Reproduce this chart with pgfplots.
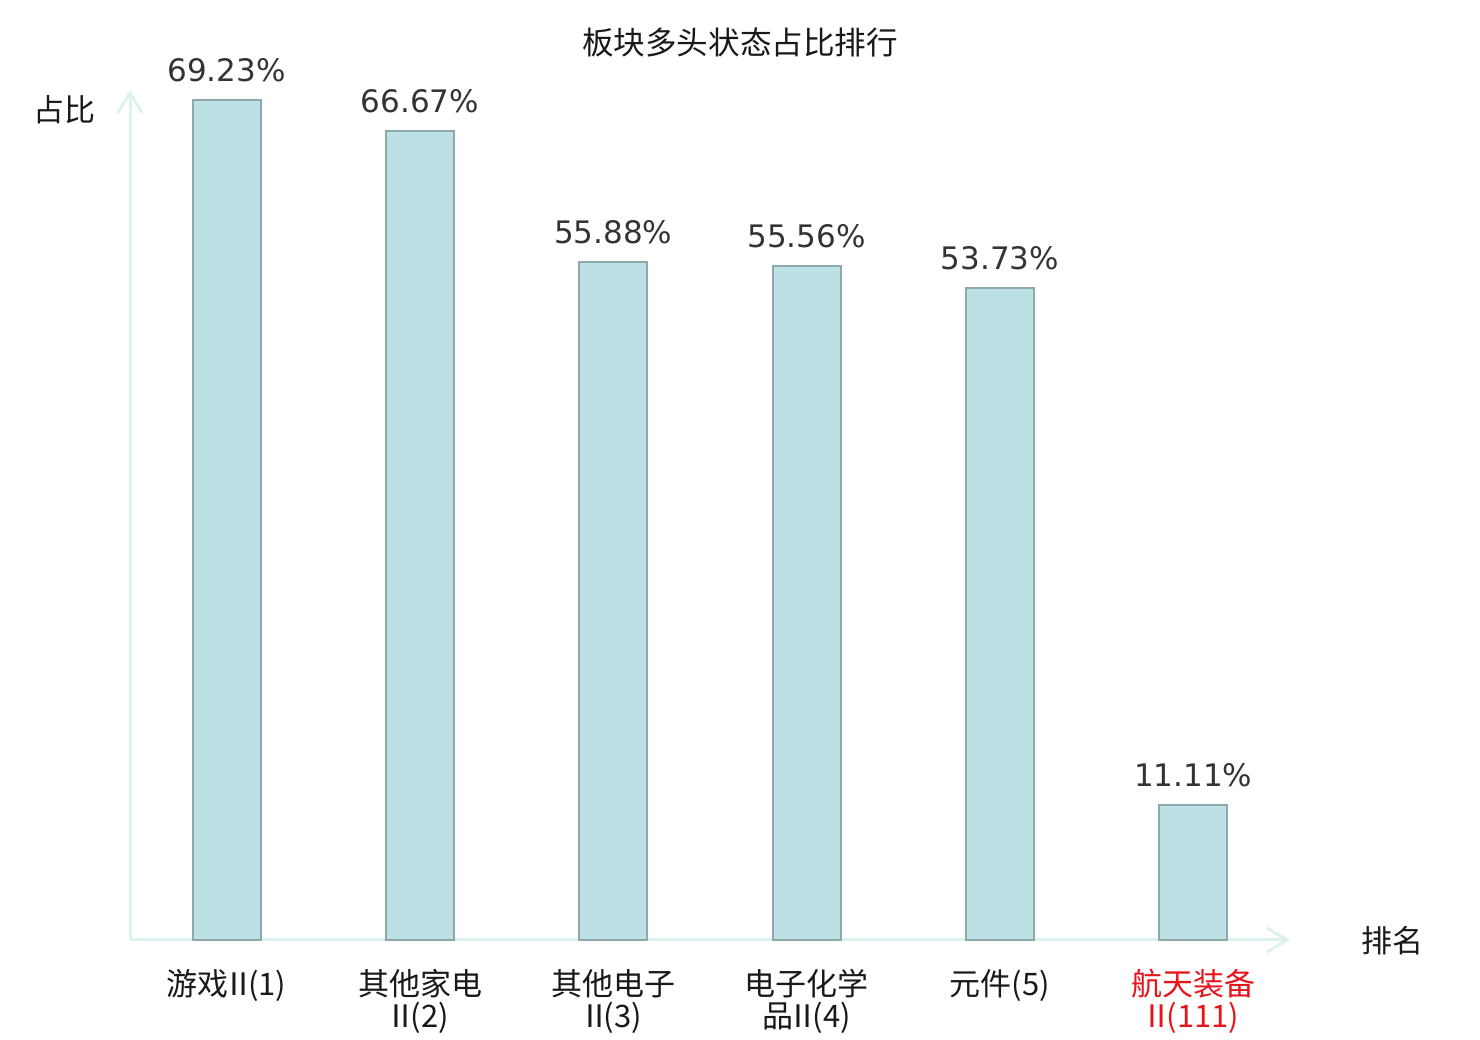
\documentclass[border=0pt]{standalone}
\usepackage{pgfplots}
\pgfplotsset{compat=1.18}
\usepackage{fontspec}
\setmainfont{DejaVu Sans}
\newfontfamily\cjk{Noto Sans CJK SC}
\usetikzlibrary{arrows.meta}
\definecolor{barfill}{HTML}{BCE0E3}
\definecolor{baredge}{HTML}{8DA9AB}
\definecolor{axc}{HTML}{DDF1EF}
\definecolor{lab}{HTML}{333333}
\definecolor{redlab}{HTML}{E8141B}
\newcommand\RII{\kern-0.18em Ⅱ\kern-0.2em}
\begin{document}
\begin{tikzpicture}[x=1pt,y=1pt]
\useasboundingbox (0,0) rectangle (740,520);
\begin{axis}[
  at={(65pt,50pt)}, anchor=south west,
  width=580pt, height=425pt, scale only axis,
  xmin=-0.5, xmax=5.5, ymin=0, ymax=70.05,
  enlargelimits=false, clip=false,
  axis lines=left,
  axis line style={draw=axc, line width=1.5pt, -{Straight Barb[length=10pt,width=12pt,line width=1.5pt]}},
  ytick=\empty,
  xtick={0,1,2,3,4,5},
  xticklabels={游戏\RII(1), 其他家电\\\RII(2), 其他电子\\\RII(3), 电子化学\\品\RII(4), 元件(5), {\color{redlab}航天装备}\\{\color{redlab}\RII(111)}},
  major tick length=0pt,
  xticklabel style={font=\cjk\fontsize{15.5}{16}\selectfont, align=center, inner sep=0pt, yshift=-14.5pt, text=black!90},
  ybar, bar width=34pt,
  point meta=explicit symbolic,
  nodes near coords={\pgfplotspointmeta\%},
  every node near coord/.append style={font=\fontsize{15.5}{16}\selectfont, text=lab, inner sep=0pt, yshift=8.5pt},
]
\addplot[fill=barfill, draw=baredge, line width=1pt] coordinates {
  (0,69.23) [69.23]
  (1,66.67) [66.67]
  (2,55.88) [55.88]
  (3,55.56) [55.56]
  (4,53.73) [53.73]
  (5,11.11) [11.11]
};
\end{axis}
\node[font=\cjk\fontsize{15.8}{16}\selectfont, text=black!90] at (370,499) {板块多头状态占比排行};
\node[font=\cjk\fontsize{15.5}{16}\selectfont, text=black!90] at (32,465) {占比};
\node[font=\cjk\fontsize{15.5}{16}\selectfont, text=black!90] at (696,49.5) {排名};
\end{tikzpicture}
\end{document}
